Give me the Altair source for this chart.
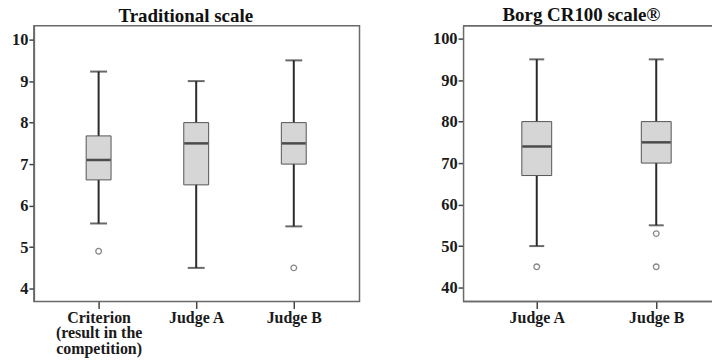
import altair as alt
import pandas as pd

# ---- Traditional scale ----
trad_cats = ["Criterion (result in the competition)", "Judge A", "Judge B"]
trad_low = [5.57, 4.5, 5.5]
trad_q1 = [6.62, 6.5, 7.0]
trad_med = [7.1, 7.5, 7.5]
trad_q3 = [7.68, 8.0, 8.0]
trad_high = [9.23, 9.0, 9.5]
trad_out_cat = ["Criterion (result in the competition)", "Judge B"]
trad_out_val = [4.9, 4.5]
trad_ticks = [4, 5, 6, 7, 8, 9, 10]

# ---- Borg CR100 scale ----
borg_cats = ["Judge A", "Judge B"]
borg_low = [50, 55]
borg_q1 = [67, 70]
borg_med = [74, 75]
borg_q3 = [80, 80]
borg_high = [95, 95]
borg_out_cat = ["Judge A", "Judge B", "Judge B"]
borg_out_val = [45, 53, 45]
borg_ticks = [40, 50, 60, 70, 80, 90, 100]

FONT = "Liberation Serif"
FRAME = "#6a6a6a"


def panel(cats, low, q1, med, q3, high, ocat, oval, ticks, domain, width, height,
          xrange, title, box_w, cap_w, yext, label_expr, open_right, title_dx):
    box = pd.DataFrame({"cat": cats, "low": low, "q1": q1, "med": med,
                        "q3": q3, "high": high})
    out = pd.DataFrame({"cat": ocat, "v": oval})
    xaxis = alt.Axis(title=None, labelAngle=0, labelFont=FONT, labelFontSize=16,
                     labelFontWeight="bold", labelColor="#1a1a1a", tickSize=7,
                     tickColor="#444", tickWidth=1.5, domain=False,
                     labelPadding=1, labelLineHeight=15.5,
                     labelBaseline="top", labelExpr=label_expr)
    yaxis = alt.Axis(title=None, values=ticks, labelFont=FONT, labelFontSize=16.5,
                     labelFontWeight="bold", labelColor="#1a1a1a", tickSize=5,
                     tickColor="#444", tickWidth=1.5, domainColor=FRAME,
                     domainWidth=1.5, grid=False, labelPadding=1,
                     minExtent=yext, maxExtent=yext)
    xs = alt.Scale(type="point", domain=cats, range=xrange, padding=0)
    ys = alt.Scale(domain=domain, nice=False, zero=False)
    X = alt.X("cat:N", scale=xs, axis=xaxis, sort=cats)

    base = alt.Chart(box)
    whisk = base.mark_rule(color="#2a2a2a", strokeWidth=2).encode(
        x=X, y=alt.Y("low:Q", scale=ys, axis=yaxis), y2="high:Q")
    rect = base.mark_bar(size=box_w, fill="#d6d6d6", stroke="#555",
                         strokeWidth=1).encode(
        x=X, y=alt.Y("q1:Q", scale=ys, axis=yaxis), y2="q3:Q")
    medt = base.mark_tick(size=box_w - 1, thickness=2.5, color="#111").encode(
        x=X, y=alt.Y("med:Q", scale=ys, axis=yaxis))
    capl = base.mark_tick(size=cap_w, thickness=2, color="#2a2a2a").encode(
        x=X, y=alt.Y("low:Q", scale=ys, axis=yaxis))
    caph = base.mark_tick(size=cap_w, thickness=2, color="#2a2a2a").encode(
        x=X, y=alt.Y("high:Q", scale=ys, axis=yaxis))
    pts = alt.Chart(out).mark_point(shape="circle", size=32, filled=False,
                                    color="#555", strokeWidth=1.3).encode(
        x=X, y=alt.Y("v:Q", scale=ys, axis=yaxis))
    layers = [whisk, rect, medt, capl, caph, pts]
    if open_right:
        top = alt.Chart(box).mark_rule(color=FRAME, strokeWidth=1.5).encode(
            x=alt.value(0), x2=alt.value(width), y=alt.value(0))
        bot = alt.Chart(box).mark_rule(color=FRAME, strokeWidth=1.5).encode(
            x=alt.value(0), x2=alt.value(width), y=alt.value(height))
        layers += [top, bot]
    ch = alt.layer(*layers).properties(
        width=width, height=height,
        title=alt.TitleParams(title, font=FONT, fontSize=19, fontWeight="bold",
                              color="#111", anchor="middle", frame="bounds",
                              offset=0, dx=title_dx))
    if open_right:
        ch = ch.properties(view=alt.ViewBackground(strokeOpacity=0))
    else:
        ch = ch.properties(view=alt.ViewBackground(stroke=FRAME, strokeWidth=1.5))
    return ch


crit = "Criterion (result in the competition)"
left = panel(trad_cats, trad_low, trad_q1, trad_med, trad_q3, trad_high,
             trad_out_cat, trad_out_val, trad_ticks, [3.69, 10.336], 327, 277,
             [65, 261], "Traditional scale", 25, 17, 25,
             "datum.label == '" + crit + "' ? ['Criterion', '(result in the', 'competition)'] : datum.label",
             False, 1.5)
right = panel(borg_cats, borg_low, borg_q1, borg_med, borg_q3, borg_high,
              borg_out_cat, borg_out_val, borg_ticks, [36.64, 103.12], 250, 277,
              [74, 194], "Borg CR100 scale®", 30, 15, 35, "datum.label",
              True, 11)

chart = alt.hconcat(left, right, spacing=68).properties(
    padding={"left": 0, "top": -3, "right": 0, "bottom": 0},
    background="white")

chart.save("out.html", embed_options={"renderer": "svg", "actions": False})
